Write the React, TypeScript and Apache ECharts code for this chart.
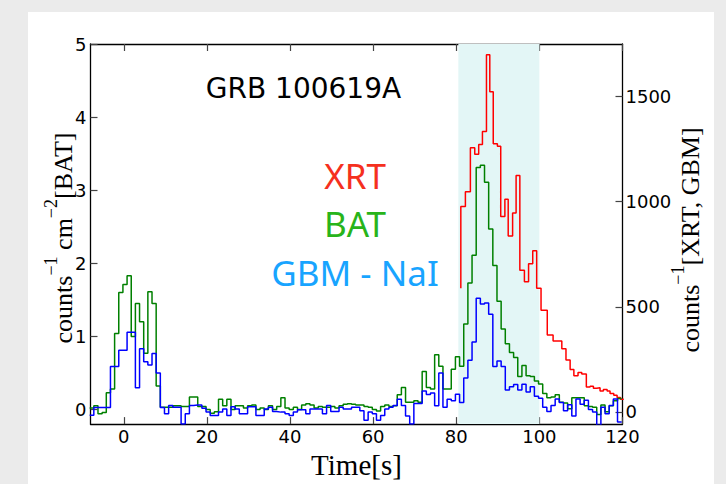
import React, { useEffect, useRef } from "react";
import * as echarts from "echarts";

// ---- data ----
const BIN_START = -8.2; // left edge of first 1-s bin
const BIN_WIDTH = 1;

// BAT (left axis, counts s^-1 cm^-2), 1-s bins from BIN_START
const batRates = [
  0.02, 0.05, -0.06, -0.04, 0.23, 0.28, 1.04, 1.6, 1.71, 1.83,
  1.0, 1.45, 1.2, 0.77, 1.61, 1.45, 0.32, 0.03, 0.03, 0.03,
  0.05, 0.05, 0.04, 0.04, 0.17, 0.17, 0.04, 0.04, 0.0, -0.05,
  -0.03, 0.14, 0.05, 0.14, 0.0, 0.05, 0.05, 0.02, 0.05, 0.06,
  0.0, 0.02, 0.0, 0.05, 0.0, 0.04, 0.16, 0.02, 0.0, 0.03,
  0.0, 0.06, 0.08, 0.06, 0.02, 0.04, 0.03, 0.03, 0.04, 0.02,
  0.05, 0.07, 0.08, 0.07, 0.06, 0.06, 0.04, 0.03, 0.0, -0.02,
  0.04, 0.06, 0.04, 0.05, 0.2, 0.3, 0.1, 0.1, 0.12, 0.1,
  0.52, 0.3, 0.28, 0.75, 0.59, 0.28, 0.28, 0.55, 0.72, 0.59,
  1.17, 1.73, 2.11, 3.31, 3.34, 3.11, 2.47, 1.97, 1.48, 1.1,
  0.9, 0.78, 0.71, 0.45, 0.6, 0.46, 0.45, 0.39, 0.35, 0.22,
  0.16, 0.17, 0.2, 0.1, 0.09, 0.01, 0.16, 0.16, 0.16, 0.05,
  0.04, 0.03, -0.07, 0.06, -0.03, 0.05, 0.12, 0.15,
];

// GBM - NaI (right axis, counts s^-1), 1-s bins from BIN_START
const gbmRates = [
  -16, 21, 21, 21, 21, 216, 216, 293, 293, 379,
  379, 115, 301, 239, 223, 278, 185, 21, -9, 30,
  22, 22, -57, -9, 30, 33, 33, 17, -1, -17,
  -17, -1, 14, -17, 25, 14, -9, -9, 25, 25,
  -17, -17, 14, 22, 2, -1, -1, -9, -17, -1,
  10, 10, -9, 14, 14, 14, -9, 30, 2, 2,
  22, 14, 14, 22, 22, 6, -40, -1, -9, -40,
  -17, 14, 22, 30, 60, 30, -20, -57, 40, 40,
  99, 83, 90, 29, 185, 22, 60, 53, 84, 45,
  161, 246, 332, 541, 513, 518, 464, 216, 242, 216,
  104, 120, 130, 104, 131, 95, 120, 75, 65, 22,
  2, 30, 61, 45, 6, 34, -20, 61, 37, 56,
  11, 0, -64, 22, -9, 30, 61, -48,
];

// XRT (right axis, counts s^-1): bin right-edge times and rates
const xrtTimes = [
  81.1, 82.2, 83.4, 84.45, 85.4, 86.3, 87.27, 88.07, 88.9, 89.9,
  90.7, 91.7, 92.5, 93.56, 94.4, 95.3, 96.4, 97.4, 98.4, 99.35,
  100.4, 101.9, 103.3, 105.4, 106.4, 107.4, 108.3, 109.3, 110.2, 111.3,
  112.2, 113.0, 113.8, 114.6, 115.4, 116.3, 117.0, 117.9, 118.7, 119.5,
  120.3,
];
const xrtRates = [
  588, 977, 1047, 1256, 1225, 1272, 1334, 1699, 1523, 1275,
  1264, 930, 1011, 837, 946, 1124, 674, 619, 705, 767,
  588, 483, 366, 337, 301, 247, 202, 172, 188, 180,
  118, 122, 112, 115, 99, 106, 99, 88, 79, 68,
  60,
];

const xTicks = [0, 20, 40, 60, 80, 100, 120];
const batTicks = [0, 1, 2, 3, 4, 5];
const rateTicks = [0, 500, 1000, 1500];
const shadedInterval = [80.5, 100];

function binned(values: number[]) {
  const pts = values.map((v, i) => [BIN_START + i * BIN_WIDTH, v]);
  pts.push([BIN_START + values.length * BIN_WIDTH, values[values.length - 1]]);
  return pts;
}

const tickFont = { fontFamily: "DejaVu Sans", fontSize: 18, color: "#000" };
const axisLineStyle = { color: "#000", width: 1.3 };
const tickLineStyle = { color: "#444", width: 1.2 };
const plain = (v: number) => String(v);

export default function App() {
  const ref = useRef<HTMLDivElement>(null);
  useEffect(() => {
    if (!ref.current) return;
    const chart = echarts.init(ref.current, null, { renderer: "svg" });
    const serif = "Liberation Serif";
    const rich = {
      m: { fontFamily: serif, fontSize: 26, lineHeight: 34, verticalAlign: "bottom", fill: "#000", color: "#000" },
      s: { fontFamily: serif, fontSize: 18, lineHeight: 26, verticalAlign: "top", fill: "#000", color: "#000" },
    };
    const option: any = {
      animation: false,
      grid: { left: 90.5, right: 103.5, top: 44, bottom: 52, containLabel: false },
      xAxis: [
        {
          type: "value", min: -8, max: 120, position: "bottom",
          name: "Time[s]", nameLocation: "middle", nameGap: 17,
          nameTextStyle: { fontFamily: serif, fontSize: 29, color: "#000" },
          axisLine: { show: true, onZero: false, lineStyle: axisLineStyle },
          axisTick: { show: true, inside: true, length: 7, customValues: xTicks, lineStyle: tickLineStyle },
          axisLabel: { show: true, customValues: xTicks, margin: 3, formatter: plain, ...tickFont },
          splitLine: { show: false },
        },
        {
          type: "value", min: -8, max: 120, position: "top",
          axisLine: { show: true, onZero: false, lineStyle: axisLineStyle },
          axisTick: { show: true, inside: true, length: 7, customValues: xTicks, lineStyle: tickLineStyle },
          axisLabel: { show: false },
          splitLine: { show: false },
        },
      ],
      yAxis: [
        {
          type: "value", min: -0.2, max: 5, position: "left",
          axisLine: { show: true, onZero: false, lineStyle: axisLineStyle },
          axisTick: { show: true, inside: true, length: 7, customValues: batTicks, lineStyle: tickLineStyle },
          axisLabel: { show: true, customValues: batTicks, margin: 4, formatter: plain, ...tickFont },
          splitLine: { show: false },
        },
        {
          type: "value", min: -58, max: 1750, position: "right",
          axisLine: { show: true, onZero: false, lineStyle: axisLineStyle },
          axisTick: { show: true, inside: true, length: 7, customValues: rateTicks, lineStyle: tickLineStyle },
          axisLabel: { show: true, customValues: rateTicks, margin: 3, formatter: plain, ...tickFont },
          splitLine: { show: false },
        },
      ],
      series: [
        {
          name: "XRT", type: "line", xAxisIndex: 0, yAxisIndex: 1, step: "start",
          data: xrtTimes.map((t, i) => [t, xrtRates[i]]),
          symbol: "none", z: 1,
          lineStyle: { color: "#ff0000", width: 1.5 },
          markArea: {
            silent: true,
            itemStyle: { color: "#e3f6f6" },
            data: [[{ xAxis: shadedInterval[0] }, { xAxis: shadedInterval[1] }]],
          },
        },
        {
          name: "BAT", type: "line", xAxisIndex: 0, yAxisIndex: 0, step: "end",
          data: binned(batRates), symbol: "none", z: 2,
          lineStyle: { color: "#008000", width: 1.5 },
        },
        {
          name: "GBM - NaI", type: "line", xAxisIndex: 0, yAxisIndex: 1, step: "end",
          data: binned(gbmRates), symbol: "none", z: 3,
          lineStyle: { color: "#0000ff", width: 1.5 },
        },
      ],
      graphic: [
        {
          type: "text", x: 303.5, y: 88, z: 10,
          style: { text: "GRB 100619A", font: "28px 'DejaVu Sans'", fill: "#000", align: "center", verticalAlign: "middle" },
        },
        {
          type: "text", x: 355, y: 175, z: 10,
          style: { text: "XRT", font: "35px 'Noto Sans'", fill: "#f5301e", align: "center", verticalAlign: "middle" },
        },
        {
          type: "text", x: 355, y: 223, z: 10,
          style: { text: "BAT", font: "35px 'Noto Sans'", fill: "#28b41a", align: "center", verticalAlign: "middle" },
        },
        {
          type: "text", x: 355, y: 272, z: 10,
          style: { text: "GBM - NaI", font: "35px 'Noto Sans'", fill: "#18a4ff", align: "center", verticalAlign: "middle" },
        },
        {
          type: "text", x: 59, y: 238, rotation: Math.PI / 2, z: 10,
          style: {
            text: "{m|counts}{s|−1}{m| cm}{s|−2}{m|[BAT]}",
            rich, align: "center", verticalAlign: "middle",
          },
        },
        {
          type: "text", x: 686, y: 240, rotation: Math.PI / 2, z: 10,
          style: {
            text: "{m|counts}{s|−1}{m|[XRT, GBM]}",
            rich, align: "center", verticalAlign: "middle",
          },
        },
      ],
    };
    chart.setOption(option);
    return () => chart.dispose();
  }, []);

  return (
    <div style={{ position: "fixed", left: 0, top: 0, width: 726, height: 484, background: "#ebebeb", overflow: "hidden" }}>
      <div style={{ position: "absolute", left: 28, top: 12, width: 686, height: 472, background: "#ffffff" }} />
      <div ref={ref} style={{ position: "absolute", left: 0, top: 0, width: 726, height: 484 }} />
    </div>
  );
}
